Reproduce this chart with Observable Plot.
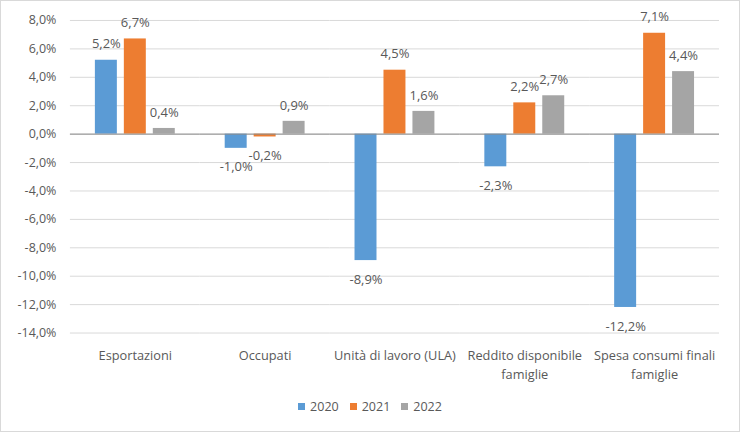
<!DOCTYPE html>
<html><head><meta charset="utf-8">
<script src="https://cdn.jsdelivr.net/npm/d3@7"></script>
<script src="https://cdn.jsdelivr.net/npm/@observablehq/plot@0.6"></script>
<style>
html,body{margin:0;padding:0;background:#fff;}
#wrap{width:738px;height:430px;border:1px solid #d9d9d9;position:relative;font-family:"Open Sans",sans-serif;background:#fff;overflow:hidden;}
#chart{position:absolute;left:-1px;top:-1px;}
#legend{position:absolute;left:0;width:738px;top:397px;display:flex;justify-content:center;gap:11px;font-size:12.5px;color:#595959;}
#legend .item{display:flex;align-items:center;gap:5px;}
#legend .sw{width:7px;height:7px;display:inline-block;}
</style></head>
<body><div id="wrap"><div id="chart"></div><div id="legend"></div></div>
<script>
const categories = ["Esportazioni","Occupati","Unità di lavoro (ULA)","Reddito disponibile famiglie","Spesa consumi finali famiglie"];
const categoryLabels = ["Esportazioni","Occupati","Unità di lavoro (ULA)","Reddito disponibile\nfamiglie","Spesa consumi finali\nfamiglie"];
const years = ["2020","2021","2022"];
const v2020 = [5.2,-1.0,-8.9,-2.3,-12.2];
const v2021 = [6.7,-0.2,4.5,2.2,7.1];
const v2022 = [0.4,0.9,1.6,2.7,4.4];
const yTicks = [-14,-12,-10,-8,-6,-4,-2,0,2,4,6,8];
const colors = ["#5B9BD5","#ED7D31","#A5A5A5"];

const series = [v2020, v2021, v2022];
const data = categories.flatMap((c,i) => series.map((s,j) => ({category:c, year:years[j], value:s[i]})));
const fmt = v => d3.format(".1f")(v).replace(".", ",").replace("\u2212", "-") + "%";
const pos = data.filter(d => d.value >= 0);
const neg = data.filter(d => d.value < 0);

const chart = Plot.plot({
  width: 740, height: 395,
  marginLeft: 69, marginRight: 20, marginTop: 20, marginBottom: 62,
  style: {fontFamily: "Open Sans", fontSize: "12px", color: "#595959", background: "transparent"},
  fx: {domain: categories, padding: 0, label: null},
  x: {domain: years, paddingInner: 0.24, paddingOuter: 0.86, axis: null},
  y: {domain: [-14, 8], label: null},
  color: {domain: years, range: colors},
  marks: [
    Plot.gridY(yTicks, {stroke: "#d9d9d9", strokeOpacity: 1, strokeWidth: 1}),
    Plot.axisY(yTicks, {tickSize: 0, tickPadding: 14, tickFormat: fmt, fontSize: 12.5, fill: "#595959", label: null}),
    Plot.barY(data, {fx: "category", x: "year", y: "value", fill: "year"}),
    Plot.ruleY([0], {stroke: "#8c8c8c", strokeWidth: 1}),
    Plot.text(pos, {fx: "category", x: "year", y: "value", text: d => fmt(d.value),
      dy: -16, lineAnchor: "middle", fill: "#595959", fontSize: 13}),
    Plot.text(neg, {fx: "category", x: "year", y: "value", text: d => fmt(d.value),
      dy: 19, lineAnchor: "middle", fill: "#595959", fontSize: 13}),
    Plot.axisFx({anchor: "bottom", tickSize: 0, tickPadding: 14, label: null, lineAnchor: "top", lineHeight: 1.45,
      tickFormat: c => categoryLabels[categories.indexOf(c)], fill: "#595959", fontSize: 12.8})
  ]
});
document.getElementById("chart").appendChild(chart);

const legend = document.getElementById("legend");
years.forEach((y, i) => {
  const it = document.createElement("div");
  it.className = "item";
  it.innerHTML = `<span class="sw" style="background:${colors[i]}"></span><span>${y}</span>`;
  legend.appendChild(it);
});
</script>
</body></html>
